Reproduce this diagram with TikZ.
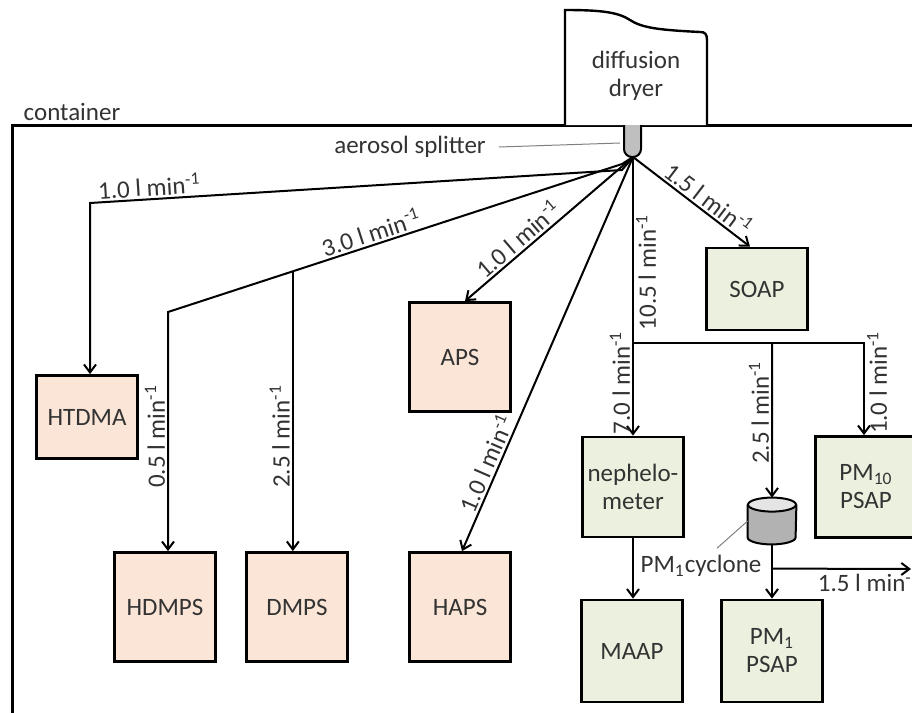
\documentclass[tikz,border=0pt]{standalone}
\usepackage{fontspec}
\setmainfont{Carlito}
\usetikzlibrary{arrows.meta}
\definecolor{peach}{HTML}{FBE5D6}
\definecolor{sage}{HTML}{EBF1DE}
\definecolor{txtgray}{HTML}{333333}
\newcommand{\flowrate}[1]{#1 l min\textsuperscript{-1}}
\tikzset{
  instr/.style={draw, line width=1.4pt, inner sep=0pt, align=center, minimum width=50.5pt},
  sizer/.style={instr, fill=peach},
  optic/.style={instr, fill=sage},
  flow/.style={line width=1pt, ->},
  rate/.style={sloped, inner sep=1pt},
  vrate/.style={rotate=90, inner sep=1pt},
  pointer/.style={line width=0.5pt, gray},
}

\begin{document}
\begin{tikzpicture}[x=0.5pt, y=-0.5pt, >={Straight Barb[length=4pt,width=6pt]},
    font=\fontsize{12.5}{14}\selectfont, text=txtgray]
    \useasboundingbox (0,0) rectangle (912,713);
    % container and dryer
    \draw[line width=1.5pt] (916,125) -- (12,125) -- (12,716);
    \node (cont) at (72,112) {container};
    \draw[line width=1.2pt, fill=white] (565,125) -- (565,10) .. controls (600,10) and (618,12) .. (630,20)
        .. controls (642,28) and (660,30) .. (700,32) .. controls (705,32) and (707,34) .. (707,40) -- (707,125);
    \node[align=center] (dry) at (636,76) {diffusion\\dryer};
    % splitter
    \draw[line width=1pt, fill=gray!50, rounded corners=4pt] (624,125) -- (624,157) -- (641,157) -- (641,125);
    \coordinate (sp) at (633,157);
    \coordinate (spl) at (620,143);
    \node (asl) at (410,147) {aerosol splitter};
    \draw[pointer] ([xshift=3pt]asl.east) -- (spl);
    % instruments
    \node[sizer, minimum height=41.5pt] (htdma) at (87,417) {HTDMA};
    \node[sizer, minimum height=54.5pt] (hdmps) at (165,607) {HDMPS};
    \node[sizer, minimum height=54.5pt] (dmps) at (297,607) {DMPS};
    \node[sizer, minimum height=54.5pt] (haps) at (460,607) {HAPS};
    \node[sizer, minimum height=54.5pt] (aps) at (460,357) {APS};
    \node[optic, minimum height=41pt] (soap) at (757,289) {SOAP};
    \node[optic, minimum height=50pt] (neph) at (633,487) {nephelo-\\meter};
    \node[optic, minimum height=51pt] (maap) at (632,651) {MAAP};
    \node[optic, minimum height=51pt] (pmone) at (772,651) {PM\textsubscript{1}\\PSAP};
    \node[optic, minimum height=50.5pt] (pmten) at (866,487) {PM\textsubscript{10}\\PSAP};
    % cyclone
    \node[minimum width=24pt, minimum height=23pt, inner sep=0pt] (cyc) at (772,521) {};
    \draw[line width=1pt, fill=gray!60] ([yshift=-3.5pt]cyc.north west) -- ([yshift=3.5pt]cyc.south west)
        arc[start angle=180, end angle=360, x radius=12pt, y radius=3.5pt] -- ([yshift=-3.5pt]cyc.north east);
    \draw[line width=1pt, fill=gray!20] ([yshift=-3.5pt]cyc.north) ellipse[x radius=12pt, y radius=3.5pt];
    \node (cyclab) at (701,566) {PM\textsubscript{1}cyclone};
    \draw[pointer] ([xshift=8pt]cyclab.north) -- (cyc.west);
    % flows to the sizers
    \coordinate (bendA) at (622,170);
    \coordinate (cA) at (90,203);
    \draw[flow] (sp) -- (bendA) -- node[rate, above, pos=0.887] {\flowrate{1.0}} (cA) -- (cA |- htdma.north);
    \coordinate (bendB) at (622,164);
    \coordinate (cB) at (168,312);
    \draw[flow] (sp) -- (bendB) -- node[rate, above, pos=0.544] {\flowrate{3.0}} coordinate[pos=0.725] (jB) (cB)
        -- node[vrate, above, pos=0.52] {\flowrate{0.5}} (cB |- hdmps.north);
    \draw[flow] (jB) -- node[vrate, above, pos=0.59] {\flowrate{2.5}} (jB |- dmps.north);
    \draw[flow] (sp) -- node[rate, above, pos=0.635] {\flowrate{1.0}} ([xshift=2.5pt]aps.north);
    \draw[flow] (sp) -- node[rate, above, pos=0.79] {\flowrate{1.0}} ([xshift=1pt]haps.north);
    % flows to the optics
    \draw[flow] (sp) -- node[rate, above, pos=0.58] {\flowrate{1.5}} ([xshift=-3.5pt]soap.north);
    \coordinate (jN) at (633,343);
    \coordinate (jP) at (864,343);
    \draw[line width=1pt] (sp) -- node[vrate, below, pos=0.62] {\flowrate{10.5}} (jN);
    \draw[flow] (jN) -- node[vrate, above, pos=0.43] {\flowrate{7.0}} (neph);
    \draw[flow] (jN) -- coordinate[pos=0.602] (jC) (jP)
        -- node[vrate, below, pos=0.43] {\flowrate{1.0}} (jP |- pmten.north);
    \draw[flow] (jC) -- node[vrate, above, pos=0.45] {\flowrate{2.5}} (cyc.north);
    \draw[flow] (neph.south) -- (neph.south |- maap.north);
    \draw[flow] (cyc.south) -- coordinate[pos=0.446] (jX) (pmone.north);
    \coordinate (exh) at (911,569);
    \draw[flow] (jX) -- node[below, inner sep=1pt, pos=0.7] {\flowrate{1.5}} (exh);
\end{tikzpicture}
\end{document}
